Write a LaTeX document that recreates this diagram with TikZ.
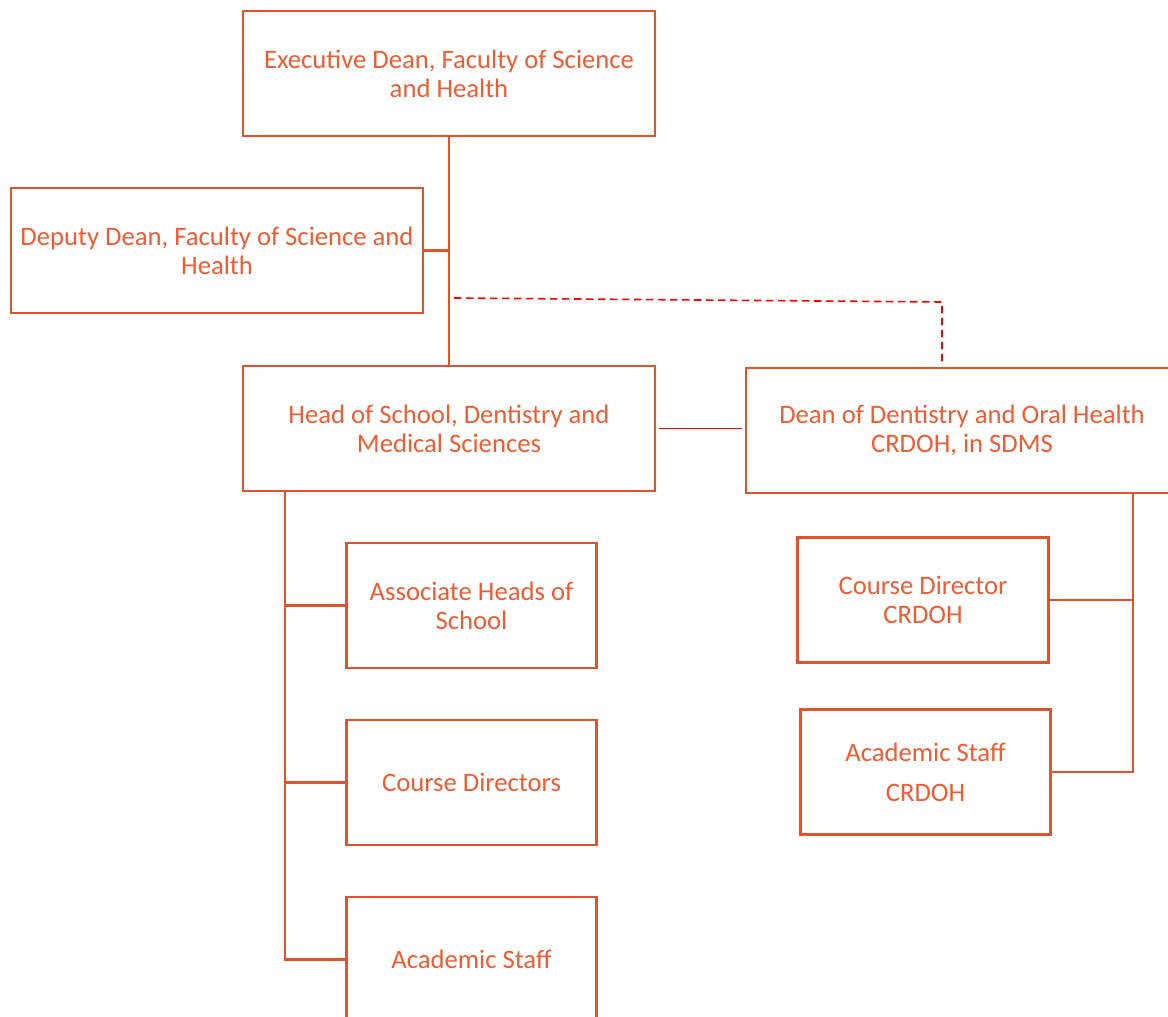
\documentclass[tikz,border=0pt]{standalone}
\usepackage{fontspec}
\setmainfont{Carlito}
\definecolor{orgline}{RGB}{224,83,44}
\definecolor{orgtext}{RGB}{238,92,52}

\begin{document}
\begin{tikzpicture}[x=0.75pt,y=-0.75pt,
  box/.style={draw=orgline,line width=2.1pt,text=orgtext,align=center,inner sep=0pt,
    minimum height=93.75pt,font=\fontsize{20}{21.75}\selectfont},
  wide/.style={box,minimum width=309pt},
  narrow/.style={box,minimum width=188pt},
  link/.style={draw=orgline,line width=2.1pt}]
\useasboundingbox (0,0) rectangle (1168,1017);
\node[wide](exec) at (449,73.5){Executive Dean, Faculty of Science\\and Health};
\node[wide](deputy) at (217,250.5){Deputy Dean, Faculty of Science and\\Health};
\node[wide](head) at (449,428.5){Head of School, Dentistry and\\Medical Sciences};
\node[box,minimum width=324pt](dean) at (962,430.5){Dean of Dentistry and Oral Health\\CRDOH, in SDMS};
\node[narrow](assoc) at (471.5,605.5){Associate Heads of\\School};
\node[narrow](coursedir) at (471.5,782.5){Course Directors};
\node[narrow](staff) at (471.5,959.5){Academic Staff};
\node[narrow](crdir) at (923,600){Course Director\\CRDOH};
\node[narrow](crstaff) at (925.5,772){Academic Staff\\[8pt]CRDOH};
\coordinate(hb) at (285,0);
\coordinate(db) at (1133,0);
\coordinate(da) at (454,298);
\coordinate(dc) at (942,302);
\draw[link](exec)--(head);
\draw[link](deputy.east)--(deputy.east -| exec.south);
\draw[red,line width=1.2pt,dash pattern=on 5.5pt off 3.5pt](da)--(dc)--([yshift=2pt]dc |- dean.north);
\draw[red,line width=1pt](head.east)++(3,0)--([xshift=-2pt]head.east -| dean.west);
\draw[link](head.south -| hb)--(staff.west -| hb)--(staff.west);
\draw[link](assoc.west -| hb)--(assoc.west);
\draw[link](coursedir.west -| hb)--(coursedir.west);
\draw[link](dean.south -| db)--(crstaff.east -| db)--(crstaff.east);
\draw[link](crdir.east)--(crdir.east -| db);
\end{tikzpicture}
\end{document}
